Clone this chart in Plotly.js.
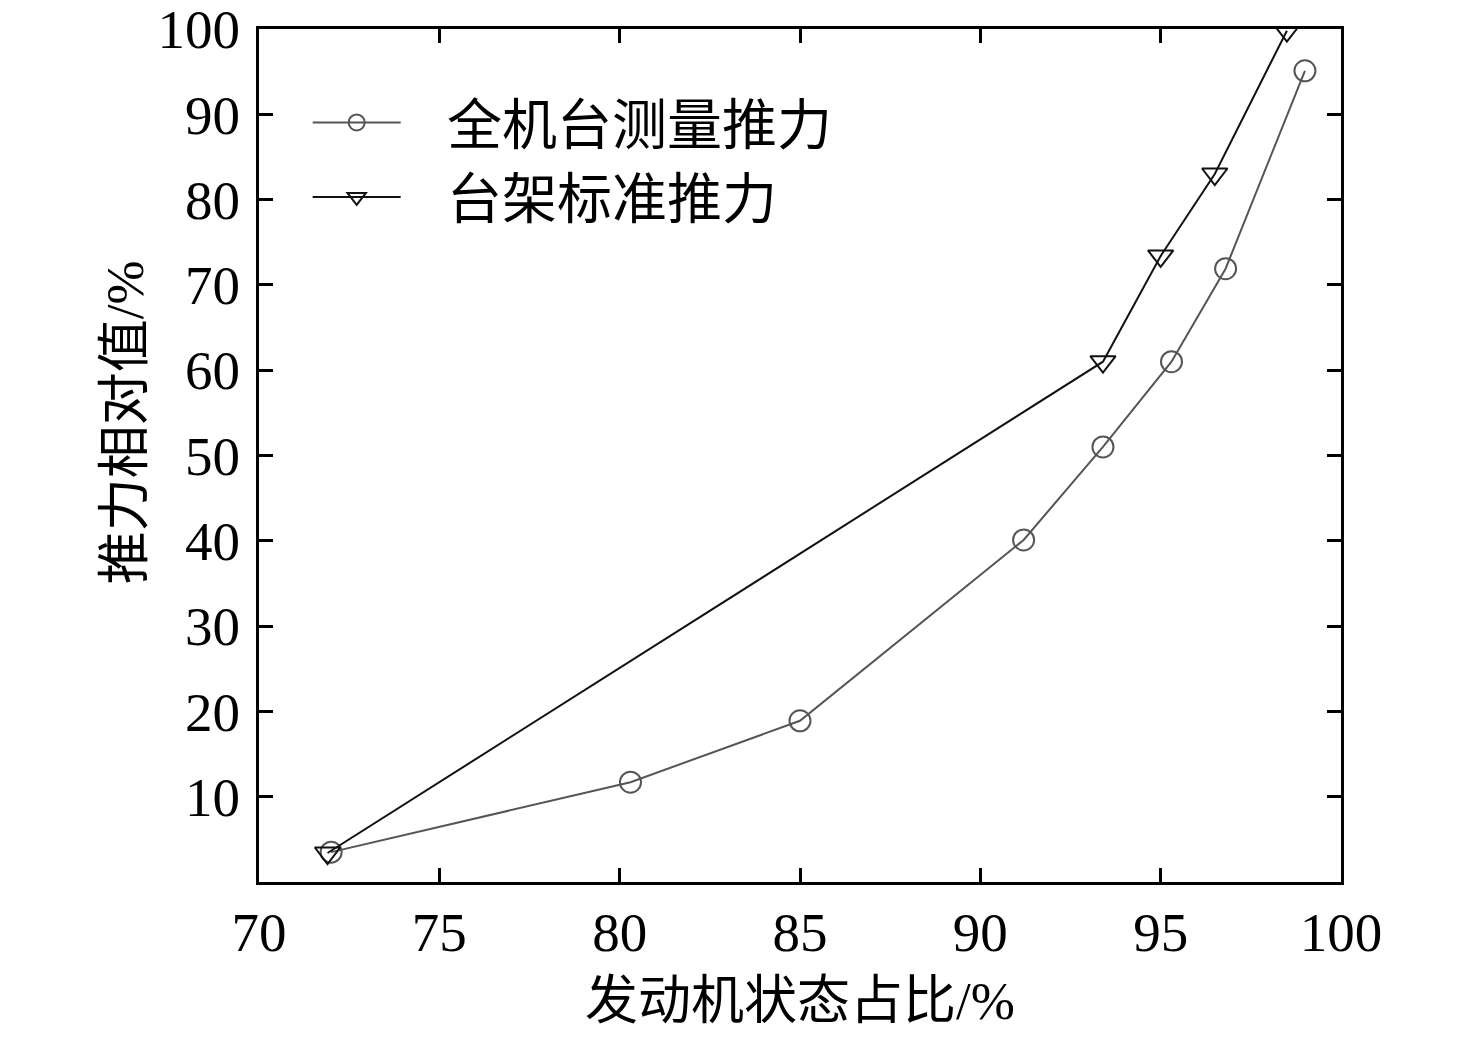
<!DOCTYPE html>
<html>
<head>
<meta charset="utf-8">
<script src="https://cdn.plot.ly/plotly-3.0.1.min.js"></script>
<style>
  html, body { margin: 0; padding: 0; background: #fff; }
  #chart { width: 1476px; height: 1037px; }
</style>
</head>
<body>
<div id="chart"></div>
<script>
'use strict';

// 全机台测量推力
var measuredX = [72.0, 80.3, 85.0, 91.2, 93.4, 95.3, 96.8, 99.0];
var measuredY = [3.5, 11.7, 18.9, 40.1, 51.0, 61.0, 71.9, 95.1];

// 台架标准推力
var standardX = [71.9, 93.4, 95.0, 96.5, 98.5];
var standardY = [3.4, 61.0, 73.4, 83.0, 99.8];

var xTicks = [70, 75, 80, 85, 90, 95, 100];
var yTicks = [10, 20, 30, 40, 50, 60, 70, 80, 90, 100];

var fontFamily = '"Liberation Serif", "Noto Sans CJK SC", serif';
var pad = '\u00a0\u00a0\u00a0'; // push legend text right of the symbol

var traces = [{
        type: 'scatter',
        name: pad + '全机台测量推力',
        x: measuredX,
        y: measuredY,
        mode: 'lines+markers',
        line: { color: '#555555', width: 2 },
        marker: {
            symbol: 'circle-open',
            size: 21,
            color: '#555555',
            line: { width: 2, color: '#555555' }
        },
        hoverinfo: 'none'
    },
    {
        type: 'scatter',
        name: pad + '台架标准推力',
        x: standardX,
        y: standardY,
        mode: 'lines+markers',
        line: { color: '#111111', width: 2 },
        marker: {
            symbol: 'triangle-down-open',
            size: 22,
            color: '#111111',
            line: { width: 2, color: '#111111' }
        },
        hoverinfo: 'none'
    }
];

var axisCommon = {
    showgrid: false,
    zeroline: false,
    showline: true,
    linecolor: '#000',
    linewidth: 3,
    mirror: 'ticks',
    ticks: 'inside',
    ticklen: 14,
    tickwidth: 3,
    tickcolor: '#000',
    ticklabeloverflow: 'allow',
    tickfont: { family: fontFamily, size: 55, color: '#000' }
};

var layout = {
    width: 1476,
    height: 1037,
    paper_bgcolor: '#fff',
    plot_bgcolor: '#fff',
    margin: { l: 259, r: 135, t: 29, b: 155 },
    showlegend: true,
    legend: {
        x: 0.045,
        y: 0.94,
        xanchor: 'left',
        yanchor: 'top',
        bgcolor: 'rgba(0,0,0,0)',
        itemwidth: 88,
        font: { family: fontFamily, size: 55, color: '#000' }
    },
    xaxis: Object.assign({}, axisCommon, {
        range: [70, 100],
        tickvals: xTicks,
        ticklabelstandoff: 0,
        title: { text: '发动机状态占比/%', font: { family: fontFamily, size: 53, color: '#000' }, standoff: 20 }
    }),
    yaxis: Object.assign({}, axisCommon, {
        range: [0, 100],
        tickvals: yTicks,
        ticklabelstandoff: 5
    }),
    annotations: [{
        text: '推力相对值/%',
        xref: 'paper',
        yref: 'paper',
        x: 0,
        y: 0.539,
        xshift: -134,
        xanchor: 'center',
        yanchor: 'middle',
        textangle: -90,
        showarrow: false,
        font: { family: fontFamily, size: 53, color: '#000' }
    }]
};

Plotly.newPlot('chart', traces, layout, { displayModeBar: false, staticPlot: true });
</script>
</body>
</html>
